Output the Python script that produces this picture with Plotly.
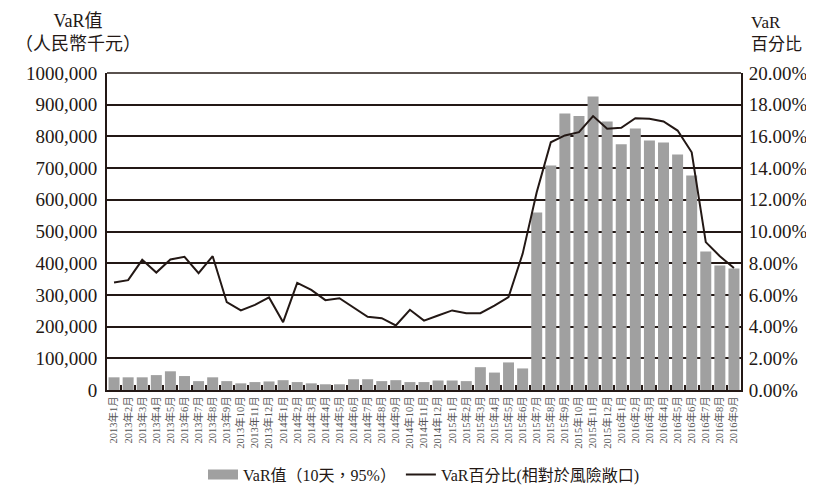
import plotly.graph_objects as go

months = [
    "2013年1月", "2013年2月", "2013年3月", "2013年4月", "2013年5月", "2013年6月",
    "2013年7月", "2013年8月", "2013年9月", "2013年10月", "2013年11月", "2013年12月",
    "2014年1月", "2014年2月", "2014年3月", "2014年4月", "2014年5月", "2014年6月",
    "2014年7月", "2014年8月", "2014年9月", "2014年10月", "2014年11月", "2014年12月",
    "2015年1月", "2015年2月", "2015年3月", "2015年4月", "2015年5月", "2015年6月",
    "2015年7月", "2015年8月", "2015年9月", "2015年10月", "2015年11月", "2015年12月",
    "2016年1月", "2016年2月", "2016年3月", "2016年4月", "2016年5月", "2016年6月",
    "2016年7月", "2016年8月", "2016年9月",
]

var_value = [
    40000, 40000, 40000, 47000, 59000, 44000, 28000, 40000, 28000, 21000, 25000, 27000,
    31000, 25000, 21000, 18000, 18000, 34000, 34000, 28000, 31000, 25000, 25000, 30000,
    30000, 28000, 72000, 55000, 87000, 68000, 560000, 708000, 872000, 864000, 926000, 847000,
    775000, 825000, 787000, 781000, 743000, 677000, 437000, 393000, 383000,
]

var_pct = [
    6.78, 6.93, 8.21, 7.41, 8.23, 8.40, 7.37, 8.44, 5.54, 5.02, 5.37, 5.84,
    4.28, 6.76, 6.32, 5.67, 5.79, 5.18, 4.62, 4.53, 4.07, 5.06, 4.38, 4.70,
    5.02, 4.85, 4.85, 5.33, 5.86, 8.59, 12.48, 15.63, 16.06, 16.27, 17.28, 16.48,
    16.54, 17.15, 17.11, 16.94, 16.37, 15.00, 9.33, 8.44, 7.69,
]

left_tickvals = [0, 100000, 200000, 300000, 400000, 500000, 600000, 700000, 800000, 900000, 1000000]
left_ticktext = ["0", "100,000", "200,000", "300,000", "400,000", "500,000", "600,000",
                 "700,000", "800,000", "900,000", "1000,000"]
right_tickvals = [0, 2, 4, 6, 8, 10, 12, 14, 16, 18, 20]
right_ticktext = ["0.00%", "2.00%", "4.00%", "6.00%", "8.00%", "10.00%", "12.00%",
                  "14.00%", "16.00%", "18.00%", "20.00%"]

bar_name = "VaR值（10天，95%）"
line_name = "VaR百分比(相對於風險敞口)"

FONT = "'Liberation Serif', 'Noto Sans CJK TC', serif"
DARK = "#231815"
GRAY = "#a0a0a0"

fig = go.Figure()
fig.add_trace(go.Bar(
    x=months, y=var_value, name=bar_name, showlegend=False,
    marker=dict(color=GRAY, line=dict(width=0)),
    yaxis="y",
))
# legend entry for bars drawn as a wide gray swatch
fig.add_trace(go.Scatter(
    x=[None], y=[None], name=bar_name, mode="lines",
    line=dict(color=GRAY, width=10), yaxis="y",
))
fig.add_trace(go.Scatter(
    x=months, y=var_pct, name=line_name,
    mode="lines", line=dict(color=DARK, width=2),
    yaxis="y2",
))

fig.update_layout(
    width=806, height=477,
    margin=dict(l=99, r=73, t=65, b=95),
    paper_bgcolor="white", plot_bgcolor="white",
    font=dict(family=FONT, color=DARK),
    bargap=0.22,
    showlegend=True,
    legend=dict(orientation="h", x=0.5, xanchor="center",
                yref="container", y=0.022, yanchor="middle",
                font=dict(size=16, family=FONT, color=DARK),
                traceorder="normal"),
    xaxis=dict(
        type="category", tickangle=-90, tickfont=dict(size=10.5, color="#555", family=FONT),
        showline=True, linecolor=DARK, linewidth=2, automargin=False,
        ticks="inside", tickson="boundaries", ticklen=5, tickcolor=DARK, tickwidth=1.5,
        showgrid=False, mirror=False,
    ),
    yaxis=dict(
        range=[0, 1000000], tickvals=left_tickvals, ticktext=left_ticktext,
        tickfont=dict(size=19, family=FONT), showgrid=True, gridcolor=DARK, gridwidth=1.5,
        showline=True, linecolor=DARK, linewidth=2, ticks="", zeroline=False,
        automargin=False, ticklabelstandoff=4,
    ),
    yaxis2=dict(
        range=[0, 20], tickvals=right_tickvals, ticktext=right_ticktext,
        overlaying="y", side="right", showgrid=False,
        tickfont=dict(size=19, family=FONT), showline=True, linecolor=DARK, linewidth=2,
        ticks="", zeroline=False, automargin=False, ticklabelstandoff=2,
    ),
    annotations=[
        dict(text="VaR值<br>（人民幣千元）", xref="paper", yref="paper", x=-0.046, y=1.0,
             yshift=17, xanchor="center", yanchor="bottom", showarrow=False,
             font=dict(size=18, family=FONT, color=DARK), align="center"),
        dict(text="VaR<br>百分比", xref="paper", yref="paper", x=1.0, y=1.0,
             xshift=8, yshift=17, xanchor="left", yanchor="bottom", showarrow=False,
             font=dict(size=17, family=FONT, color=DARK), align="left"),
    ],
)

fig.add_shape(type="line", xref="paper", yref="paper", x0=0, x1=1, y0=1, y1=1,
              line=dict(color=DARK, width=1.5))

fig.write_html("out.html")
